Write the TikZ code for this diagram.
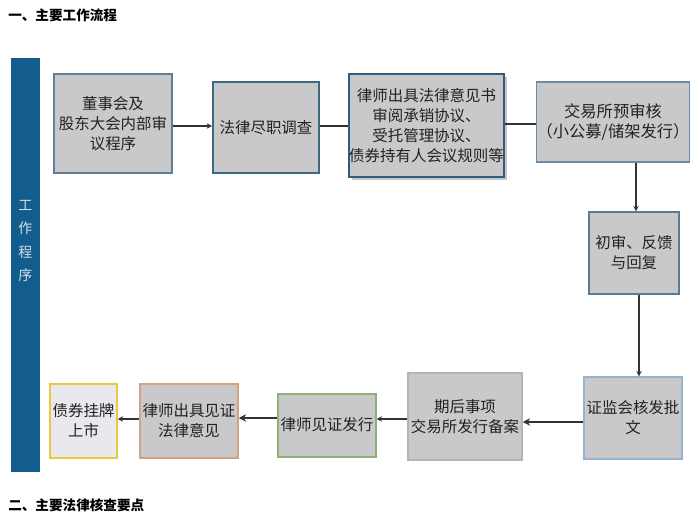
\documentclass[tikz,border=0pt]{standalone}
\usepackage{fontspec}
\setmainfont{Noto Sans CJK SC}
\usetikzlibrary{arrows.meta}
\definecolor{barblue}{HTML}{125D8E}
\definecolor{boxgray}{HTML}{C9C9CC}
\definecolor{boxlight}{HTML}{E9E9ED}
\definecolor{txt}{HTML}{222222}
\definecolor{bdA}{HTML}{5E7E9C}
\definecolor{bdB}{HTML}{3B6A82}
\definecolor{bdC}{HTML}{2E5C7C}
\definecolor{bdD}{HTML}{6C8BA6}
\definecolor{bdE}{HTML}{5B7B92}
\definecolor{bdF}{HTML}{93B3D3}
\definecolor{bdG}{HTML}{B4B4B8}
\definecolor{bdH}{HTML}{8DB274}
\definecolor{bdI}{HTML}{D3A283}
\definecolor{bdJ}{HTML}{E9C843}
\begin{document}
\begin{tikzpicture}[x=0.75pt,y=-0.75pt,
  box/.style={draw, fill=boxgray, inner sep=0pt, align=center, text=txt,
    font=\fontsize{11.6}{15}\selectfont, line width=1.1pt},
  conn/.style={draw=black!80, line width=0.8pt, -{Stealth[length=4pt,width=4pt]}},
  plain/.style={draw=black!80, line width=0.8pt},
  thick conn/.style={draw=black!80, line width=2pt, -{Stealth[length=5.5pt,width=5.5pt]}},
  heading/.style={anchor=west, font=\fontsize{10.2}{12}\selectfont\bfseries, text=black, inner sep=0pt}]
\useasboundingbox (0,0) rectangle (699,529);
\fill[white] (0,0) rectangle (699,529);

\node[heading] (t1) at (8,15) {一、主要工作流程};
\node[heading] (t2) at (8,505) {二、主要法律核查要点};

\node[fill=barblue, minimum width=29*0.75pt, minimum height=414*0.75pt, inner sep=0pt] (bar) at (25.5,265) {};
\node[text=white!80!barblue, align=center, font=\fontsize{10.5}{17.3}\selectfont, inner sep=0pt] (bartext) at (25.5,241) {工\\作\\程\\序};

% shadow of box3
\fill[black!22] (352,77) rectangle (507,180);

\node[box, draw=bdA, minimum width=118*0.75pt, minimum height=99*0.75pt] (b1) at (113,123.5) {董事会及\\股东大会内部审\\议程序};
\node[box, draw=bdB, line width=1.5pt, minimum width=106*0.75pt, minimum height=91*0.75pt] (b2) at (266,127.5) {法律尽职调查};
\node[box, draw=bdC, line width=1.6pt, minimum width=155*0.75pt, minimum height=103*0.75pt] (b3) at (426.5,125.5) {律师出具法律意见书\\审阅承销协议、\\受托管理协议、\\债券持有人会议规则等};
\node[box, draw=bdD, font=\fontsize{12.2}{15}\selectfont, minimum width=152*0.75pt, minimum height=80*0.75pt] (b4) at (613,122) {交易所预审核\\（小公募/储架发行）};
\node[box, draw=bdE, minimum width=90*0.75pt, minimum height=82*0.75pt] (b5) at (634,253) {初审、反馈\\与回复};
\node[box, draw=bdF, minimum width=98*0.75pt, minimum height=82*0.75pt] (b6) at (633,418) {证监会核发批\\文};
\node[box, draw=bdG, minimum width=114*0.75pt, minimum height=87*0.75pt] (b7) at (465,416.5) {期后事项\\交易所发行备案};
\node[box, draw=bdH, minimum width=98*0.75pt, minimum height=63*0.75pt] (b8) at (327,425.5) {\raisebox{3pt}{律师见证发行}};
\node[box, draw=bdI, minimum width=98*0.75pt, minimum height=74*0.75pt] (b9) at (189,421) {律师出具见证\\法律意见};
\node[box, draw=bdJ, fill=boxlight, minimum width=67*0.75pt, minimum height=74*0.75pt] (b10) at (83.5,421) {债券挂牌\\上市};

\draw[conn] (b1.east |- 0,126) -- (b2.west |- 0,126);
\draw[plain] (b2.east |- 0,126) -- (b3.west |- 0,126);
\draw[plain] (b3.east |- 0,124) -- (b4.west |- 0,124);
\draw[conn] (b4.south -| 636,0) -- (b5.north -| 636,0);
\draw[conn] (b5.south -| 639,0) -- (b6.north -| 639,0);
\draw[thick conn] (b6.west |- 0,422) -- (b7.east |- 0,422);
\draw[conn] (b7.west |- 0,419) -- (b8.east |- 0,419);
\draw[thick conn] (b8.west |- 0,418) -- (b9.east |- 0,418);
\draw[conn] (b9.west |- 0,419) -- (b10.east |- 0,419);
\end{tikzpicture}
\end{document}
